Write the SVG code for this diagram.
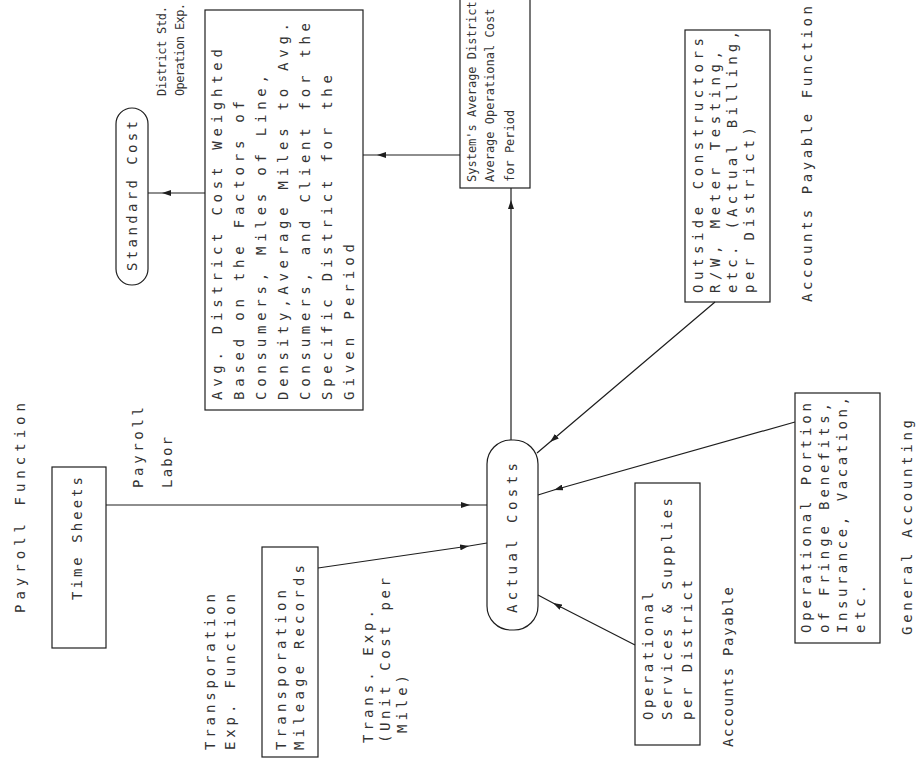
<svg xmlns="http://www.w3.org/2000/svg" width="916" height="782" viewBox="0 0 916 782">
<defs>
<style>
.t{font-family:"DejaVu Sans Mono","Liberation Mono",monospace;font-size:14px;fill:#333}
.s{font-size:12px}
.box{fill:none;stroke:#1e1e1e;stroke-width:1.2}
.ln{fill:none;stroke:#1e1e1e;stroke-width:1.2;marker-mid:url(#ah)}
</style>
<marker id="ah" markerWidth="9" markerHeight="6" refX="9" refY="3" orient="auto" markerUnits="userSpaceOnUse"><path d="M0,0 L9,3 L0,6 Z" fill="#1e1e1e"/></marker>
</defs>
<rect width="916" height="782" fill="#fff"/>
<g id="connectors">
<path class="ln" d="M106,505 L470,505 L487,505"/>
<path class="ln" d="M318,568 L469,546 L487,543"/>
<path class="ln" d="M635,645 L553,603 L538,595"/>
<path class="ln" d="M795,422 L554,490 L538,495"/>
<path class="ln" d="M715,302 L550,442 L537,453"/>
<path class="ln" d="M511,440 L511,200 L511,188"/>
<path class="ln" d="M460,155 L377,155 L363,155"/>
<path class="ln" d="M205,193 L162,193 L148,193"/>
</g>
<g id="payroll-function"><text class="t" transform="translate(25 613) rotate(-90)" textLength="210" lengthAdjust="spacing">Payroll Function</text></g>
<g id="time-sheets"><rect class="box" x="52" y="467" width="54" height="181"/><text class="t" transform="translate(82 600) rotate(-90)" textLength="123" lengthAdjust="spacing">Time Sheets</text></g>
<g id="payroll-labor"><text class="t" transform="translate(143 488) rotate(-90)" textLength="81" lengthAdjust="spacing">Payroll</text><text class="t" transform="translate(172 488) rotate(-90)" textLength="51" lengthAdjust="spacing">Labor</text></g>
<g id="standard-cost"><rect class="box" x="116" y="108" width="32" height="177" rx="16"/><text class="t" transform="translate(137 271) rotate(-90)" textLength="150" lengthAdjust="spacing">Standard Cost</text></g>
<g id="district-std-label"><text class="t s" transform="translate(166 96) rotate(-90)" textLength="90" lengthAdjust="spacing">District Std.</text><text class="t s" transform="translate(184 96) rotate(-90)" textLength="93" lengthAdjust="spacing">Operation Exp.</text></g>
<g id="avg-district-cost"><rect class="box" x="205" y="10" width="158" height="400"/>
<text class="t" transform="translate(222 400) rotate(-90)" textLength="351" lengthAdjust="spacing">Avg. District Cost Weighted</text>
<text class="t" transform="translate(244 400) rotate(-90)" textLength="299" lengthAdjust="spacing">Based on the Factors of</text>
<text class="t" transform="translate(266 400) rotate(-90)" textLength="325" lengthAdjust="spacing">Consumers, Miles of Line,</text>
<text class="t" transform="translate(288 400) rotate(-90)" textLength="377" lengthAdjust="spacing">Density,Average Miles to Avg.</text>
<text class="t" transform="translate(310 400) rotate(-90)" textLength="377" lengthAdjust="spacing">Consumers, and Client for the</text>
<text class="t" transform="translate(332 400) rotate(-90)" textLength="325" lengthAdjust="spacing">Specific District for the</text>
<text class="t" transform="translate(354 400) rotate(-90)" textLength="156" lengthAdjust="spacing">Given Period</text></g>
<g id="systems-average"><rect class="box" x="460" y="-5" width="70" height="193"/>
<text class="t s" transform="translate(476 182) rotate(-90)">System's Average District</text>
<text class="t s" transform="translate(494 182) rotate(-90)">Average Operational Cost</text>
<text class="t s" transform="translate(514 182) rotate(-90)">for Period</text></g>
<g id="transportation-label"><text class="t" transform="translate(215 750) rotate(-90)" textLength="156" lengthAdjust="spacing">Transporation</text><text class="t" transform="translate(235 750) rotate(-90)" textLength="156" lengthAdjust="spacing">Exp. Function</text></g>
<g id="transportation-records"><rect class="box" x="262" y="547" width="56" height="210"/><text class="t" transform="translate(286 750) rotate(-90)" textLength="160" lengthAdjust="spacing">Transporation</text><text class="t" transform="translate(304 750) rotate(-90)" textLength="185" lengthAdjust="spacing">Mileage Records</text></g>
<g id="trans-exp-label"><text class="t" transform="translate(373 743) rotate(-90)" textLength="133" lengthAdjust="spacing">Trans. Exp.</text><text class="t" transform="translate(390 743) rotate(-90)" textLength="165" lengthAdjust="spacing">(Unit Cost per</text><text class="t" transform="translate(407 733) rotate(-90)" textLength="58" lengthAdjust="spacing">Mile)</text></g>
<g id="actual-costs"><rect class="box" x="487" y="440" width="51" height="190" rx="24"/><text class="t" transform="translate(517 613) rotate(-90)" textLength="150" lengthAdjust="spacing">Actual Costs</text></g>
<g id="operational-services"><rect class="box" x="635" y="483" width="65" height="262"/>
<text class="t" transform="translate(653 720) rotate(-90)" textLength="128" lengthAdjust="spacing">Operational</text>
<text class="t" transform="translate(672 720) rotate(-90)" textLength="222" lengthAdjust="spacing">Services &amp; Supplies</text>
<text class="t" transform="translate(692 720) rotate(-90)" textLength="140" lengthAdjust="spacing">per District</text></g>
<g id="accounts-payable-label"><text class="t" transform="translate(733 747) rotate(-90)" textLength="160" lengthAdjust="spacing">Accounts Payable</text></g>
<g id="outside-constructors"><rect class="box" x="685" y="30" width="85" height="272"/>
<text class="t" transform="translate(703 293) rotate(-90)" textLength="255" lengthAdjust="spacing">Outside Constructors</text>
<text class="t" transform="translate(720 293) rotate(-90)" textLength="242" lengthAdjust="spacing">R/W, Meter Testing,</text>
<text class="t" transform="translate(737 293) rotate(-90)" textLength="262" lengthAdjust="spacing">etc. (Actual Billing,</text>
<text class="t" transform="translate(754 293) rotate(-90)" textLength="166" lengthAdjust="spacing">per District)</text></g>
<g id="ap-function-label"><text class="t" transform="translate(812 302) rotate(-90)" textLength="296" lengthAdjust="spacing">Accounts Payable Function</text></g>
<g id="fringe-benefits"><rect class="box" x="795" y="393" width="85" height="250"/>
<text class="t" transform="translate(811 633) rotate(-90)" textLength="230" lengthAdjust="spacing">Operational Portion</text>
<text class="t" transform="translate(829 633) rotate(-90)" textLength="230" lengthAdjust="spacing">of Fringe Benefits,</text>
<text class="t" transform="translate(847 633) rotate(-90)" textLength="236" lengthAdjust="spacing">Insurance, Vacation,</text>
<text class="t" transform="translate(865 633) rotate(-90)" textLength="48" lengthAdjust="spacing">etc.</text></g>
<g id="general-accounting"><text class="t" transform="translate(912 635) rotate(-90)" textLength="215" lengthAdjust="spacing">General Accounting</text></g>
</svg>
